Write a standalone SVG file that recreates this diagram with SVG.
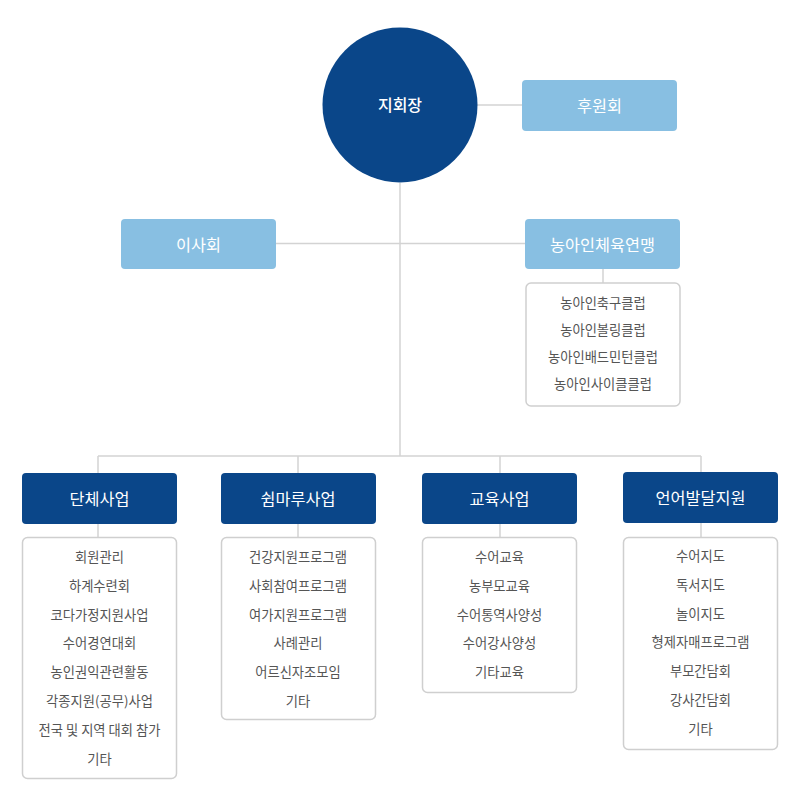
<svg xmlns="http://www.w3.org/2000/svg" width="800" height="800" viewBox="0 0 800 800">
<style>
.bg{fill:#ffffff}
.line{stroke:#d3d3d3;stroke-width:1.5;fill:none}
.dark{fill:#0a4689}
.light{fill:#88bfe2}
.list{fill:#ffffff;stroke:#cfcfcf;stroke-width:1.5}
.t{font-family:"Noto Sans CJK KR","Noto Sans",sans-serif;text-anchor:middle;dominant-baseline:central}
.hw{fill:#ffffff;font-size:16.3px}
.hb{fill:#ffffff;font-size:16px;font-weight:500}
.li{fill:#555555;font-size:13.3px}
</style>
<rect class="bg" x="0" y="0" width="800" height="800"/>
<g id="connectors">
<line class="line" x1="477" y1="105" x2="522" y2="105"/>
<line class="line" x1="400" y1="183" x2="400" y2="456"/>
<line class="line" x1="276" y1="243.5" x2="525" y2="243.5"/>
<line class="line" x1="603" y1="269" x2="603" y2="283"/>
<line class="line" x1="98" y1="456" x2="701" y2="456"/>
<line class="line" x1="98" y1="456" x2="98" y2="473"/>
<line class="line" x1="298" y1="456" x2="298" y2="473"/>
<line class="line" x1="500" y1="456" x2="500" y2="473"/>
<line class="line" x1="701" y1="456" x2="701" y2="472"/>
<line class="line" x1="98" y1="524" x2="98" y2="537"/>
<line class="line" x1="298" y1="524" x2="298" y2="537"/>
<line class="line" x1="500" y1="524" x2="500" y2="537"/>
<line class="line" x1="701" y1="523" x2="701" y2="537"/>
</g>
<g id="chair">
<circle class="dark" cx="400" cy="105" r="77.5"/>
<text class="t hb" x="400" y="104">지회장</text>
</g>
<g id="supporters">
<rect class="light" x="522" y="80" width="155" height="51" rx="4"/>
<text class="t hw" x="599.5" y="104.5">후원회</text>
</g>
<g id="board">
<rect class="light" x="121" y="219" width="155" height="50" rx="4"/>
<text class="t hw" x="198.5" y="243.5">이사회</text>
</g>
<g id="sports">
<rect class="light" x="525" y="219" width="155" height="50" rx="4"/>
<text class="t hw" x="602.5" y="243.5">농아인체육연맹</text>
</g>
<g id="clubs">
<rect class="list" x="526" y="283" width="154" height="123" rx="5"/>
<text class="t li" x="603" y="302">농아인축구클럽</text>
<text class="t li" x="603" y="329">농아인볼링클럽</text>
<text class="t li" x="603" y="356">농아인배드민턴클럽</text>
<text class="t li" x="603" y="383">농아인사이클클럽</text>
</g>
<g id="group-business">
<rect class="dark" x="22" y="473" width="155" height="51" rx="4"/>
<text class="t hw" x="99.5" y="498">단체사업</text>
<rect class="list" x="22.5" y="537.5" width="154" height="241" rx="5"/>
<text class="t li" x="99.5" y="556.5">회원관리</text>
<text class="t li" x="99.5" y="585.5">하계수련회</text>
<text class="t li" x="99.5" y="614">코다가정지원사업</text>
<text class="t li" x="99.5" y="642.5">수어경연대회</text>
<text class="t li" x="99.5" y="671">농인권익관련활동</text>
<text class="t li" x="99.5" y="700.5">각종지원(공무)사업</text>
<text class="t li" x="99.5" y="729">전국 및 지역 대회 참가</text>
<text class="t li" x="99.5" y="758">기타</text>
</g>
<g id="shimmaru">
<rect class="dark" x="221" y="473" width="155" height="51" rx="4"/>
<text class="t hw" x="298" y="498">쉼마루사업</text>
<rect class="list" x="221.5" y="537.5" width="154" height="182" rx="5"/>
<text class="t li" x="298" y="556.5">건강지원프로그램</text>
<text class="t li" x="298" y="585.5">사회참여프로그램</text>
<text class="t li" x="298" y="614">여가지원프로그램</text>
<text class="t li" x="298" y="642.5">사례관리</text>
<text class="t li" x="298" y="671">어르신자조모임</text>
<text class="t li" x="298" y="700.5">기타</text>
</g>
<g id="education">
<rect class="dark" x="422" y="473" width="155" height="51" rx="4"/>
<text class="t hw" x="499.5" y="498">교육사업</text>
<rect class="list" x="422.5" y="537.5" width="154" height="155" rx="5"/>
<text class="t li" x="499.5" y="556.5">수어교육</text>
<text class="t li" x="499.5" y="585.5">농부모교육</text>
<text class="t li" x="499.5" y="614">수어통역사양성</text>
<text class="t li" x="499.5" y="642.5">수어강사양성</text>
<text class="t li" x="499.5" y="671">기타교육</text>
</g>
<g id="language">
<rect class="dark" x="623" y="472" width="155" height="51" rx="4"/>
<text class="t hw" x="700.5" y="496.5">언어발달지원</text>
<rect class="list" x="623.5" y="537.5" width="154" height="212" rx="5"/>
<text class="t li" x="700.5" y="555.5">수어지도</text>
<text class="t li" x="700.5" y="584.5">독서지도</text>
<text class="t li" x="700.5" y="613">놀이지도</text>
<text class="t li" x="700.5" y="641.5">형제자매프로그램</text>
<text class="t li" x="700.5" y="670">부모간담회</text>
<text class="t li" x="700.5" y="699">강사간담회</text>
<text class="t li" x="700.5" y="728">기타</text>
</g>
</svg>
